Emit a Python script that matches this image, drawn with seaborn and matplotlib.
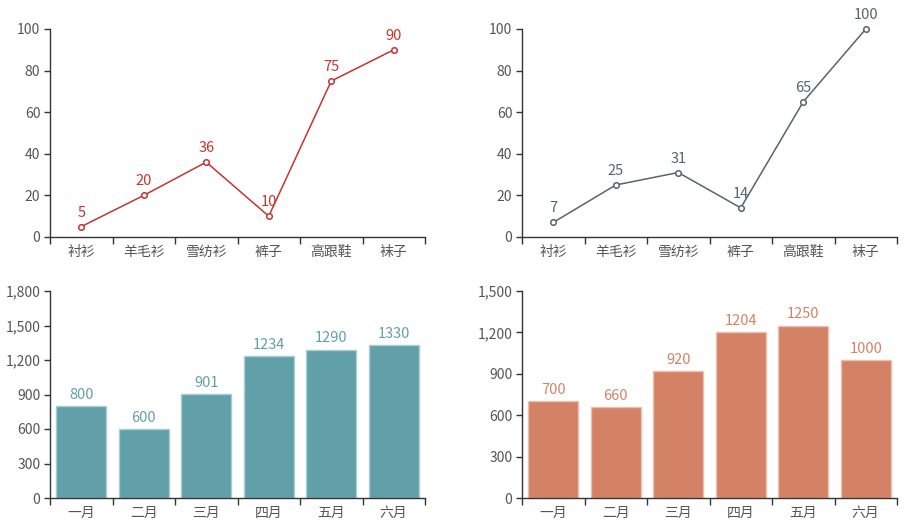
import numpy as np
import pandas as pd
import seaborn as sns
import matplotlib.pyplot as plt
from matplotlib.ticker import FuncFormatter, FixedLocator

sns.set_theme(style='ticks')
plt.rcParams['font.family'] = ['Noto Sans CJK SC', 'DejaVu Sans']

# 데이터
goods = ['衬衫', '羊毛衫', '雪纺衫', '裤子', '高跟鞋', '袜子']
sales_a = [5, 20, 36, 10, 75, 90]
sales_b = [7, 25, 31, 14, 65, 100]
months = ['一月', '二月', '三月', '四月', '五月', '六月']
bars_a = [800, 600, 901, 1234, 1290, 1330]
bars_b = [700, 660, 920, 1204, 1250, 1000]

fig = plt.figure(figsize=(9.05, 5.32), dpi=100)
W, H = 905, 532


def box(x0, y0, x1, y1):
    return [x0 / W, 1 - y1 / H, (x1 - x0) / W, (y1 - y0) / H]


ax1 = fig.add_axes(box(50, 29, 425, 237))
ax2 = fig.add_axes(box(522, 29, 897, 237))
ax3 = fig.add_axes(box(50, 291, 425, 498))
ax4 = fig.add_axes(box(522, 291, 897, 498))

axis_col = '#333333'
text_col = '#555555'


def style(ax, ymax, step, comma=False):
    ax.set_xlim(-0.5, 5.5)
    ax.set_ylim(0, ymax)
    ax.set_yticks(np.arange(0, ymax + 1, step))
    if comma:
        ax.yaxis.set_major_formatter(FuncFormatter(lambda v, p: f'{int(v):,}'))
    for s in ['top', 'right']:
        ax.spines[s].set_visible(False)
    for s in ['left', 'bottom']:
        ax.spines[s].set_color(axis_col)
        ax.spines[s].set_linewidth(1)
    ax.tick_params(axis='y', length=4, width=1, color=axis_col, labelcolor=text_col,
                   labelsize=10, pad=3)
    ax.tick_params(axis='x', which='major', length=0, labelcolor=text_col,
                   labelsize=10, pad=6)
    ax.xaxis.set_minor_locator(FixedLocator(np.arange(-0.5, 6, 1)))
    ax.tick_params(axis='x', which='minor', length=5, width=1, color=axis_col)
    ax.set_xlabel('')
    ax.set_ylabel('')
    ax.grid(False)


def line_panel(ax, vals, col):
    df = pd.DataFrame({'cat': goods, 'v': vals})
    sns.lineplot(data=df, x='cat', y='v', ax=ax, color=col, linewidth=1.1,
                 marker='o', markersize=4, markerfacecolor='white',
                 markeredgecolor=col, markeredgewidth=1.1, sort=False,
                 clip_on=False)
    for i, v in enumerate(vals):
        ax.annotate(str(v), (i, v), xytext=(0, 5), textcoords='offset points',
                    ha='center', va='bottom', color=col, fontsize=10.5)
    style(ax, 100, 20)


def bar_panel(ax, vals, col, edge, ymax):
    df = pd.DataFrame({'m': months, 'v': vals})
    sns.barplot(data=df, x='m', y='v', ax=ax, color=col, saturation=1,
                width=0.8, edgecolor=edge, linewidth=1)
    for i, v in enumerate(vals):
        ax.annotate(str(v), (i, v), xytext=(0, 3), textcoords='offset points',
                    ha='center', va='bottom', color=col, fontsize=10.5)
    style(ax, ymax, 300, comma=True)


line_panel(ax1, sales_a, '#c23531')
line_panel(ax2, sales_b, '#546570')
bar_panel(ax3, bars_a, '#61a0a8', '#a9cdd1', 1800)
bar_panel(ax4, bars_b, '#d48265', '#ecc0ae', 1500)

fig.savefig('out.png', dpi=100)
